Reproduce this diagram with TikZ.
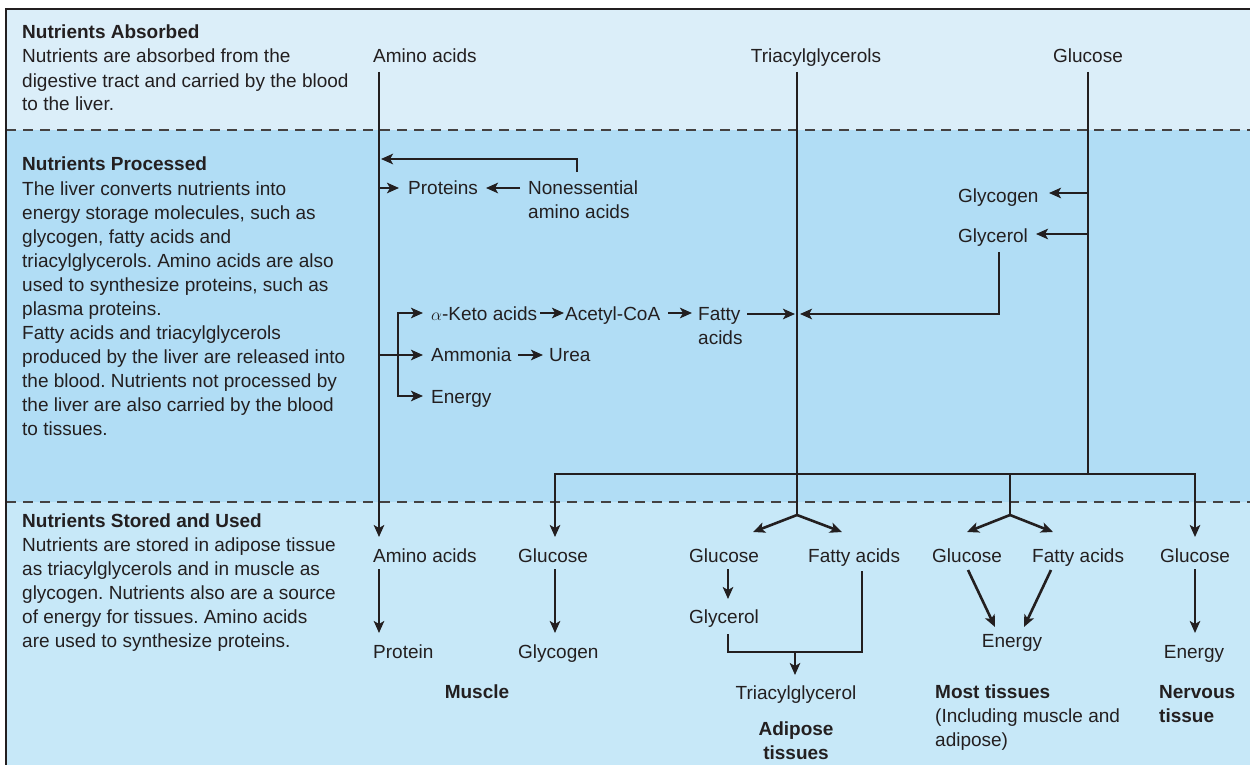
\documentclass[tikz,border=0pt]{standalone}
\usepackage{fontspec}
\setmainfont{Liberation Sans}
\usetikzlibrary{arrows.meta}
\definecolor{bandtop}{HTML}{DBEEF9}
\definecolor{bandmid}{HTML}{B1DDF5}
\definecolor{bandbot}{HTML}{C7E8F8}
\definecolor{ink}{HTML}{231F20}
\newcommand{\fs}{\fontsize{19}{24}\selectfont}
\frenchspacing
\begin{document}
\begin{tikzpicture}[x=1pt,y=-1pt,
  lbl/.style={inner sep=0pt, font=\fs, text=ink, anchor=base west},
  lblc/.style={lbl, anchor=base},
  blk/.style={lbl, align=left},
  hd/.style={lbl, font=\fs\bfseries},
  flow/.style={draw=ink, line width=2.6pt},
  arr/.style={flow, -{Stealth[length=12pt,width=10.5pt,inset=3pt]}},
  sep/.style={draw=ink!85, line width=1.4pt, dash pattern=on 10pt off 7pt}]
\useasboundingbox (0,0) rectangle (1250,765);
% three horizontal bands
\fill[white] (0,0) rectangle (1250,765);
\fill[bandtop] (6,9) rectangle (1250,130);
\fill[bandmid] (6,130) rectangle (1250,502);
\fill[bandbot] (6,502) rectangle (1250,765);
\draw[sep] (6,130) -- (1250,130);
\draw[sep] (6,502) -- (1250,502);
\draw[ink, line width=1.6pt] (6,765) -- (6,9) -- (1250,9);

% ---- left-hand descriptions (multi-line nodes sit on their last baseline)
\node[hd] (absHead) at (22,38.5) {Nutrients Absorbed};
\node[blk] (absText) at (22,111) {Nutrients are absorbed from the\\digestive tract and carried by the blood\\to the liver.};
\node[hd] (procHead) at (22,171) {Nutrients Processed};
\node[blk] (procText) at (22,435) {The liver converts nutrients into\\energy storage molecules, such as\\glycogen, fatty acids and\\triacylglycerols. Amino acids are also\\used to synthesize proteins, such as\\plasma proteins.\\Fatty acids and triacylglycerols\\produced by the liver are released into\\the blood. Nutrients not processed by\\the liver are also carried by the blood\\to tissues.};
\node[hd] (useHead) at (22,527) {Nutrients Stored and Used};
\node[blk] (useText) at (22,647) {Nutrients are stored in adipose tissue\\as triacylglycerols and in muscle as\\glycogen. Nutrients also are a source\\of energy for tissues. Amino acids\\are used to synthesize proteins.};

% ---- absorbed nutrients
\node[lbl] (amTop) at (373,63) {Amino acids};
\node[lblc] (tgTop) at (816,63) {Triacylglycerols};
\node[lblc] (glTop) at (1088,63) {Glucose};

% ---- liver processing
\node[lbl] (proteins) at (408,194) {Proteins};
\node[blk] (nonEss) at (528,218) {Nonessential\\amino acids};
\node[lbl] (glycogenL) at (958,202) {Glycogen};
\node[lbl] (glycerolL) at (958,242) {Glycerol};
\node[lbl] (keto) at (431,320) {$\alpha$-Keto acids};
\node[lbl] (acetyl) at (565,320) {Acetyl-CoA};
\node[blk] (fattyL) at (698,344) {Fatty\\acids};
\node[lbl] (ammonia) at (431,361) {Ammonia};
\node[lbl] (urea) at (549,361) {Urea};
\node[lbl] (energyL) at (431,403) {Energy};

% ---- tissues
\node[lbl] (amBot) at (373,562) {Amino acids};
\node[lbl] (protein) at (373,658) {Protein};
\node[lbl] (glcMus) at (518,562) {Glucose};
\node[lbl] (glyMus) at (518,658) {Glycogen};
\node[hd, anchor=base] (muscle) at (477,698) {Muscle};

\node[lbl] (glcAd) at (689,562) {Glucose};
\node[lbl] (faAd) at (808,562) {Fatty acids};
\node[lbl] (glycAd) at (689,623) {Glycerol};
\node[lblc] (tagAd) at (796,699) {Triacylglycerol};
\node[hd, anchor=base, align=center] (adipose) at (796,759) {Adipose\\tissues};

\node[lbl] (glcMost) at (932,562) {Glucose};
\node[lbl] (faMost) at (1032,562) {Fatty acids};
\node[lblc] (enMost) at (1012,647) {Energy};
\node[hd] (most) at (935,698) {Most tissues};
\node[blk] (incl) at (935,746) {(Including muscle and\\adipose)};

\node[lblc] (glcNerv) at (1195,562) {Glucose};
\node[lblc] (enNerv) at (1194,658) {Energy};
\node[hd, align=left] (nervous) at (1159,722) {Nervous\\tissue};

% ---- trunks from the digestive tract
\coordinate (aaA) at (379,72);
\coordinate (aaB) at (379,537);
\coordinate (tgA) at (797,72);
\coordinate (tgSplit) at (797,515);
\coordinate (glA) at (1088,72);
\coordinate (glB) at (1088,474);
\coordinate (busL) at (555,474);
\coordinate (busR) at (1195,474);
\coordinate (busM) at (1010,474);
\coordinate (mostSplit) at (1010,515);

\draw[arr] (aaA) -- (aaB);
\draw[flow] (tgA) -- (tgSplit);
\draw[flow] (glA) -- (glB);
\draw[arr] (glB) -- (busL) -- (555,537);
\draw[arr] (glB) -- (busR) -- (1195,537);
\draw[flow] (busM) -- (mostSplit);
\draw[arr] (tgSplit) -- (753,532);
\draw[arr] (tgSplit) -- (842,532);
\draw[arr] (mostSplit) -- (967,532);
\draw[arr] (mostSplit) -- (1053,532);

% ---- liver reactions
\coordinate (neUp) at (577,172);
\draw[arr] (neUp) -- (577,159) -- (381,159);
\draw[arr] (379,188) -- (399,188);
\draw[arr] (520,188) -- (486,188);
\draw[arr] (1088,193) -- (1049,193);
\draw[arr] (1088,234) -- (1036,234);
\coordinate (gcDown) at (999,252);
\draw[arr] (gcDown) -- (999,314) -- (800,314);
\draw[arr] (747,314) -- (795,314);
\coordinate (ketoFork) at (398,355);
\draw[flow] (379,355) -- (ketoFork);
\draw[arr] (ketoFork) -- (423,355);
\draw[arr] (ketoFork) |- (423,313);
\draw[arr] (ketoFork) |- (423,396);
\draw[arr] (540,313) -- (564,313);
\draw[arr] (668,313) -- (692,313);
\draw[arr] (518,355) -- (543,355);

% ---- tissue pathways
\draw[arr] (379,569) -- (379,633);
\draw[arr] (555,569) -- (555,633);
\draw[arr] (728,569) -- (728,599);
\draw[flow] (728,634) -- (728,652) -- (862,652) -- (862,571);
\coordinate (tagIn) at (795,652);
\draw[arr] (tagIn) -- (795,675);
\draw[arr] (968,570) -- (995,627);
\draw[arr] (1051,570) -- (1024,627);
\draw[arr] (1195,569) -- (1195,633);
\end{tikzpicture}
\end{document}
